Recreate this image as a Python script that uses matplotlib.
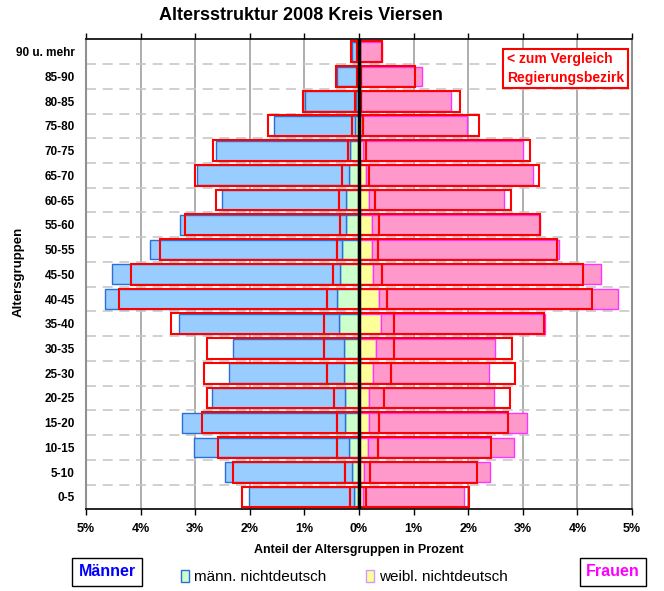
import numpy as np
import matplotlib
matplotlib.use("Agg")
import matplotlib.pyplot as plt
from matplotlib.patches import Patch

plt.rcParams['font.family'] = ['Liberation Sans', 'DejaVu Sans']

groups = ['0-5', '5-10', '10-15', '15-20', '20-25', '25-30', '30-35', '35-40', '40-45',
          '45-50', '50-55', '55-60', '60-65', '65-70', '70-75', '75-80', '80-85', '85-90',
          '90 u. mehr']

# Kreis Viersen, Anteil in Prozent
m_total = [2.02, 2.46, 3.03, 3.25, 2.69, 2.39, 2.30, 3.30, 4.66, 4.53, 3.83, 3.27, 2.51, 2.97,
           2.62, 1.55, 0.98, 0.40, 0.13]
m_nd = [0.09, 0.13, 0.19, 0.25, 0.25, 0.27, 0.27, 0.37, 0.41, 0.35, 0.31, 0.23, 0.23, 0.19,
        0.16, 0.08, 0.05, 0.03, 0.02]
w_total = [1.92, 2.40, 2.83, 3.07, 2.47, 2.38, 2.49, 3.41, 4.75, 4.43, 3.67, 3.31, 2.66, 3.18,
           3.00, 1.98, 1.68, 1.15, 0.43]
w_nd = [0.07, 0.10, 0.16, 0.19, 0.19, 0.26, 0.32, 0.40, 0.36, 0.25, 0.23, 0.23, 0.18, 0.12,
        0.07, 0.06, 0.03, 0.03, 0.02]

# Regierungsbezirk (zum Vergleich)
rb_m_total = [2.14, 2.30, 2.58, 2.88, 2.78, 2.84, 2.78, 3.44, 4.40, 4.18, 3.64, 3.19, 2.61, 3.00,
              2.67, 1.66, 1.03, 0.42, 0.15]
rb_m_nd = [0.16, 0.25, 0.40, 0.41, 0.46, 0.59, 0.64, 0.64, 0.59, 0.48, 0.40, 0.35, 0.36, 0.31,
           0.20, 0.12, 0.07, 0.04, 0.03]
rb_w_total = [2.01, 2.17, 2.42, 2.72, 2.76, 2.86, 2.80, 3.38, 4.27, 4.11, 3.63, 3.32, 2.78, 3.30,
              3.14, 2.20, 1.85, 1.03, 0.43]
rb_w_nd = [0.13, 0.21, 0.35, 0.37, 0.46, 0.59, 0.65, 0.64, 0.52, 0.42, 0.35, 0.37, 0.30, 0.19,
           0.12, 0.07, 0.04, 0.04, 0.02]

y = np.arange(len(groups))
m_total, m_nd, w_total, w_nd = map(np.array, (m_total, m_nd, w_total, w_nd))
rb_m_total, rb_m_nd, rb_w_total, rb_w_nd = map(np.array, (rb_m_total, rb_m_nd, rb_w_total, rb_w_nd))

fig = plt.figure(figsize=(6.64, 5.91), dpi=100)
ax = fig.add_axes([86/664, 1-509.3/591, 546/664, 470/591])

# grid
for v in range(-5, 6):
    ax.axvline(v, color='#a0a0a0', lw=1.2, zorder=0)
for b in y[:-1] + 0.5:
    ax.axhline(b, color='#c8c8c8', lw=1.2, dashes=(6, 4), zorder=0)

h = 0.8
# Männer (Kreis)
ax.barh(y, -m_nd, height=h, color='#ccffcc', edgecolor='#2a6fd6', lw=1, zorder=2)
ax.barh(y, -(m_total - m_nd), left=-m_nd, height=h, color='#99ccff', edgecolor='#2a6fd6', lw=1, zorder=2)
# Frauen (Kreis)
ax.barh(y, w_nd, height=h, color='#ffff99', edgecolor='#ff33ff', lw=1, zorder=2)
ax.barh(y, w_total - w_nd, left=w_nd, height=h, color='#ff99cc', edgecolor='#ff33ff', lw=1, zorder=2)

# Regierungsbezirk outlines
hr = 0.84
ax.barh(y, -rb_m_nd, height=hr, fill=False, edgecolor='#ff0000', lw=1.5, zorder=3)
ax.barh(y, -(rb_m_total - rb_m_nd), left=-rb_m_nd, height=hr, fill=False, edgecolor='#ff0000', lw=1.5, zorder=3)
ax.barh(y, rb_w_nd, height=hr, fill=False, edgecolor='#ff0000', lw=1.5, zorder=3)
ax.barh(y, rb_w_total - rb_w_nd, left=rb_w_nd, height=hr, fill=False, edgecolor='#ff0000', lw=1.5, zorder=3)

ax.axvline(0, color='black', lw=2.5, zorder=4)

ax.set_xlim(-5, 5)
ax.set_ylim(-0.5, len(groups) - 0.5)
ticks = np.arange(-5, 6)
ax.set_xticks(ticks)
ax.set_xticklabels(['%d%%' % abs(t) for t in ticks], fontsize=9, fontweight='bold')
ax.set_yticks(y)
ax.set_yticklabels(groups, fontsize=8.5, fontweight='bold')
ax.tick_params(axis='y', length=0, pad=8)
ax.tick_params(axis='x', top=True, labeltop=False, direction='out', length=4, width=1, pad=6)
for s in ('top', 'bottom'):
    ax.spines[s].set_color('black')
    ax.spines[s].set_linewidth(1.2)
for s in ('left', 'right'):
    ax.spines[s].set_color('#909090')
    ax.spines[s].set_linewidth(1.5)

ax.set_xlabel('Anteil der Altersgruppen in Prozent', fontsize=9, fontweight='bold', labelpad=6)
ax.set_ylabel('Altersgruppen', fontsize=9.5, fontweight='bold')
ax.yaxis.set_label_coords((25 - 86) / 546, 0.505)

fig.text(301/664, 1-15/591, 'Altersstruktur 2008 Kreis Viersen', ha='center', va='center',
         fontsize=13, fontweight='bold')

ax.text(0.771, 0.972, '< zum Vergleich\nRegierungsbezirk', transform=ax.transAxes,
        ha='left', va='top', color='#ff0000', fontsize=10, fontweight='bold', linespacing=1.4,
        bbox=dict(boxstyle='square,pad=0.25', fc='white', ec='#ff0000', lw=1.5), zorder=5)

fig.text(107/664, 1-572/591, 'Männer', ha='center', va='center', color='#0000ff', fontsize=11.5,
         fontweight='bold', bbox=dict(boxstyle='square,pad=0.4', fc='white', ec='black', lw=1))
fig.text(613/664, 1-572/591, 'Frauen', ha='center', va='center', color='#ff00ff', fontsize=11.5,
         fontweight='bold', bbox=dict(boxstyle='square,pad=0.4', fc='white', ec='black', lw=1))

handles = [Patch(facecolor='#ccffcc', edgecolor='#2a6fd6', label='männ. nichtdeutsch'),
           Patch(facecolor='#ffff99', edgecolor='#cc99ff', label='weibl. nichtdeutsch')]
fig.legend(handles=handles, loc='center', bbox_to_anchor=(344/664, 1-577/591), ncol=2,
           frameon=False, fontsize=11, handlelength=0.55, handleheight=0.9, handletextpad=0.3,
           columnspacing=2.6, borderpad=0)

fig.savefig('out.png', dpi=100)
